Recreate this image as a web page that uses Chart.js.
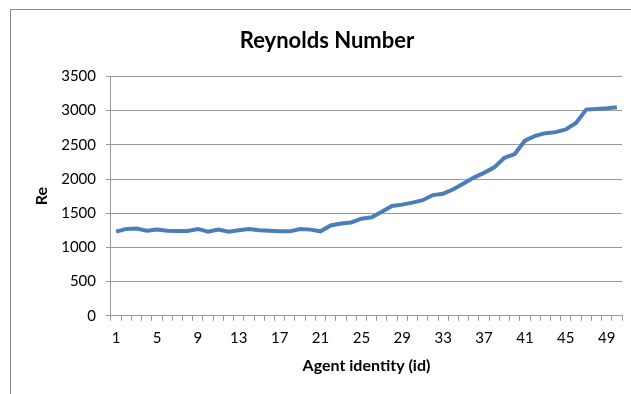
<!DOCTYPE html>
<html>
<head>
<meta charset="utf-8">
<script src="https://cdn.jsdelivr.net/npm/chart.js@4"></script>
<style>
  html,body{margin:0;padding:0;background:#fff;}
  #wrap{position:relative;width:631px;height:394px;}
  #frame{position:absolute;left:10px;top:9px;right:0;bottom:0;border-top:1px solid #888;border-left:1px solid #888;pointer-events:none;}
</style>
</head>
<body>
<div id="wrap">
  <canvas id="reChart" width="631" height="394"></canvas>
  <div id="frame"></div>
</div>
<script>
// Reynolds number per agent
const agentIds = Array.from({length:50},(_,i)=>String(i+1));
const reValues = [
  1230,1270,1275,1245,1260,1245,1240,1240,1270,1230,
  1260,1230,1250,1270,1250,1245,1235,1235,1270,1260,
  1235,1320,1350,1365,1420,1440,1520,1605,1625,1655,
  1690,1765,1785,1850,1935,2020,2090,2170,2310,2365,
  2560,2630,2670,2685,2725,2820,3015,3025,3035,3050
];
const yTicks = [0,500,1000,1500,2000,2500,3000,3500];

const font = "Lato, 'Open Sans', sans-serif";

new Chart(document.getElementById('reChart').getContext('2d'), {
  type:'line',
  data:{
    labels: agentIds,
    datasets:[{
      label:'Re',
      data: reValues,
      borderColor:'#4a7ebb',
      borderWidth:4,
      pointRadius:0,
      tension:0,
      fill:false
    }]
  },
  options:{
    responsive:false,
    animation:false,
    layout:{padding:{left:32,right:9,top:6,bottom:15}},
    plugins:{
      legend:{display:false},
      tooltip:{enabled:false},
      title:{
        display:true,
        text:'Reynolds Number',
        color:'#000',
        font:{family:font,size:22,weight:'bold'},
        padding:{top:22,bottom:22}
      }
    },
    scales:{
      x:{
        offset:true,
        grid:{offset:true,drawOnChartArea:false,tickLength:5,color:'#999'},
        border:{color:'#999'},
        ticks:{
          autoSkip:false,maxRotation:0,color:'#000',padding:8,
          font:{family:font,size:15},
          callback:(v,i)=> i%4===0 ? agentIds[i] : ''
        },
        title:{display:true,text:'Agent identity (id)',color:'#000',font:{family:font,size:16,weight:'bold'},padding:{top:1}}
      },
      y:{
        min:yTicks[0],max:yTicks[yTicks.length-1],
        afterBuildTicks:a=>{a.ticks=yTicks.map(v=>({value:v}));},
        grid:{color:'#999',tickLength:5},
        border:{color:'#999'},
        ticks:{color:'#000',padding:10,font:{family:font,size:15},callback:v=>String(v)},
        title:{display:true,text:'Re',color:'#000',font:{family:font,size:16,weight:'bold'},padding:{top:0,bottom:0}}
      }
    }
  }
});
</script>
</body>
</html>
